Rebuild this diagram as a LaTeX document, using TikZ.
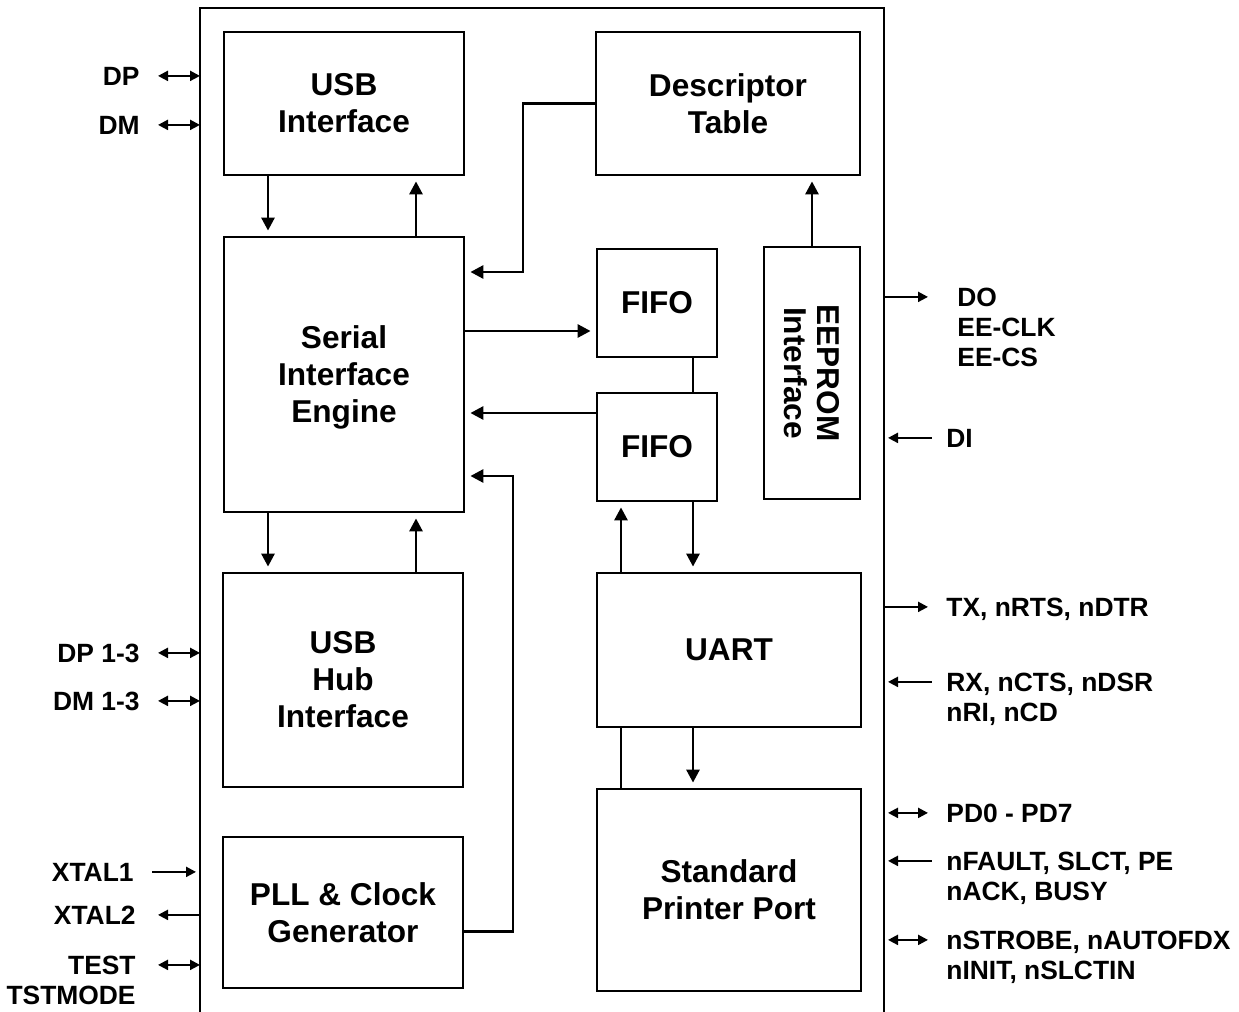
\documentclass[tikz,border=0pt]{standalone}
\usepackage{fontspec}
\setmainfont{Liberation Sans}
\usetikzlibrary{arrows.meta, positioning, calc}

\begin{document}
\begin{tikzpicture}[
  x=0.5pt, y=-0.5pt,
  every node/.style={font=\bfseries},
  block/.style={rectangle, draw, line width=1.4pt, align=center, inner sep=0pt,
    font=\fontsize{15.8}{18.5}\selectfont\bfseries},
  pinlabel/.style={inner sep=0pt, font=\fontsize{13.2}{15}\selectfont\bfseries},
  bus/.style={line width=1.4pt, -{Triangle[length=6.5pt, width=6.5pt]}, shorten >=2.5pt},
  link/.style={line width=1.4pt},
  pinout/.style={line width=1.1pt, -{Triangle[length=5pt, width=5pt]}},
  pinin/.style={line width=1.1pt, {Triangle[length=5pt, width=5pt]}-},
  pinboth/.style={line width=1.1pt, {Triangle[length=5pt, width=5pt]}-{Triangle[length=5pt, width=5pt]}},
]
  \useasboundingbox (0,0) rectangle (1239,1012);

  % chip outline
  \coordinate (chipW) at (200,0);
  \coordinate (chipE) at (884,0);
  \coordinate (pinL) at (158,0);
  \coordinate (pinR) at (928,0);
  \draw[line width=1.4pt] (200,1012) -- (200,8) -- (884,8) -- (884,1012);

  % blocks
  \node[block, minimum width=120pt, minimum height=71.5pt] (usb) at (344,103.5) {USB\\Interface};
  \node[block, minimum width=132pt, minimum height=71.5pt] (desc) at (728,103.5) {Descriptor\\Table};
  \node[block, minimum width=120pt, minimum height=137.5pt, text depth=0pt] (sie) at (344,374.5) {Serial\\Interface\\Engine};
  \node[block, minimum width=60pt, minimum height=54pt] (fifoin) at (657,303) {FIFO};
  \node[block, minimum width=60pt, minimum height=54pt] (fifoout) at (657,447) {FIFO};
  \node[block, rotate=-90, minimum width=126pt, minimum height=48pt,
    font=\fontsize{15.8}{16.5}\selectfont\bfseries] (eeprom) at (812,373) {EEPROM\\Interface};
  \node[block, minimum width=120pt, minimum height=107pt] (hub) at (343,680) {USB\\Hub\\Interface};
  \node[block, minimum width=132pt, minimum height=77pt] (uart) at (729,650) {UART};
  \node[block, minimum width=120pt, minimum height=75.5pt] (pll) at (343,912.5) {PLL \& Clock\\Generator};
  \node[block, minimum width=132pt, minimum height=101pt] (spp) at (729,890) {Standard\\Printer Port};

  % internal connections
  \draw[bus] ([xshift=-38pt]usb.south) -- ([xshift=-38pt]usb.south |- sie.north);
  \draw[bus] ([xshift=36pt]usb.south |- sie.north) -- ([xshift=36pt]usb.south);
  \coordinate (descturn) at (523,272);
  \draw[bus] (desc.west) -| (descturn) -- (descturn -| sie.east);
  \draw[bus] ([yshift=-14pt]sie.east |- fifoin.west) -- ([yshift=-14pt]fifoin.west);
  \draw[bus] ([yshift=17pt]fifoout.west) -- ([yshift=17pt]sie.east |- fifoout.west);
  \draw[link] ([xshift=18pt]fifoin.south) -- ([xshift=18pt]fifoout.north);
  \draw[bus] (eeprom.west) -- (eeprom.west |- desc.south);
  \draw[bus] ([xshift=-38pt]sie.south) -- ([xshift=-38pt]sie.south |- hub.north);
  \draw[bus] ([xshift=36pt]sie.south |- hub.north) -- ([xshift=36pt]sie.south);
  \coordinate (clkturn) at (513,476);
  \draw[bus] ([yshift=-9.5pt]pll.east) -| (clkturn) -- (clkturn -| sie.east);
  \draw[bus] ([xshift=-18pt]fifoout.south |- uart.north) -- ([xshift=-18pt]fifoout.south);
  \draw[bus] ([xshift=18pt]fifoout.south) -- ([xshift=18pt]fifoout.south |- uart.north);
  \draw[bus] ([xshift=18pt]fifoout.south |- uart.south) -- ([xshift=18pt]fifoout.south |- spp.north);
  \draw[link] ([xshift=-18pt]fifoout.south |- uart.south) -- ([xshift=-18pt]fifoout.south |- spp.north);

  % left pins
  \node[pinlabel, anchor=north east] (dp) at (140,66.5) {DP};
  \node[pinlabel, anchor=north east] (dm) at (140,115.5) {DM};
  \node[pinlabel, anchor=north east] (dpx) at (140,643.5) {DP 1-3};
  \node[pinlabel, anchor=north east] (dmx) at (140,691.5) {DM 1-3};
  \node[pinlabel, anchor=north east] (xtalin) at (134,862.5) {XTAL1};
  \node[pinlabel, anchor=north east] (xtalout) at (136,905.5) {XTAL2};
  \node[pinlabel, anchor=north east, align=right] (test) at (136,955.5) {TEST\\TSTMODE};

  \draw[pinboth] ([yshift=-4.7pt]dp.north east -| pinL) -- ([yshift=-4.7pt]dp.north east -| chipW);
  \draw[pinboth] ([yshift=-4.7pt]dm.north east -| pinL) -- ([yshift=-4.7pt]dm.north east -| chipW);
  \draw[pinboth] ([yshift=-4.7pt]dpx.north east -| pinL) -- ([yshift=-4.7pt]dpx.north east -| chipW);
  \draw[pinboth] ([yshift=-4.7pt]dmx.north east -| pinL) -- ([yshift=-4.7pt]dmx.north east -| chipW);
  \draw[pinout] ([yshift=-4.7pt,xshift=-3pt]xtalin.north east -| pinL) -- ([yshift=-4.7pt,xshift=-2pt]xtalin.north east -| chipW);
  \draw[pinin] ([yshift=-4.7pt]xtalout.north east -| pinL) -- ([yshift=-4.7pt]xtalout.north east -| chipW);
  \draw[pinboth] ([yshift=-4.7pt]test.north east -| pinL) -- ([yshift=-4.7pt]test.north east -| chipW);

  % right pins
  \node[pinlabel, anchor=north west, align=left] (eeout) at (957,287.5) {DO\\EE-CLK\\EE-CS};
  \node[pinlabel, anchor=north west] (eein) at (946,428.5) {DI};
  \node[pinlabel, anchor=north west] (txd) at (946,597.5) {TX, nRTS, nDTR};
  \node[pinlabel, anchor=north west, align=left] (rxd) at (946,672.5) {RX, nCTS, nDSR\\nRI, nCD};
  \node[pinlabel, anchor=north west] (pdata) at (946,803.5) {PD0 - PD7};
  \node[pinlabel, anchor=north west, align=left] (pstat) at (946,851.5) {nFAULT, SLCT, PE\\nACK, BUSY};
  \node[pinlabel, anchor=north west, align=left] (pctrl) at (946,930.5) {nSTROBE, nAUTOFDX\\nINIT, nSLCTIN};

  \draw[pinout] ([yshift=-4.7pt]eeout.north west -| chipE) -- ([yshift=-4.7pt]eeout.north west -| pinR);
  \draw[pinin] ([yshift=-4.7pt,xshift=2pt]eein.north west -| chipE) -- ([yshift=-4.7pt,xshift=2pt]eein.north west -| pinR);
  \draw[pinout] ([yshift=-4.7pt]txd.north west -| chipE) -- ([yshift=-4.7pt]txd.north west -| pinR);
  \draw[pinin] ([yshift=-4.7pt,xshift=2pt]rxd.north west -| chipE) -- ([yshift=-4.7pt,xshift=2pt]rxd.north west -| pinR);
  \draw[pinboth] ([yshift=-4.7pt,xshift=2pt]pdata.north west -| chipE) -- ([yshift=-4.7pt]pdata.north west -| pinR);
  \draw[pinin] ([yshift=-4.7pt,xshift=2pt]pstat.north west -| chipE) -- ([yshift=-4.7pt,xshift=2pt]pstat.north west -| pinR);
  \draw[pinboth] ([yshift=-4.7pt,xshift=2pt]pctrl.north west -| chipE) -- ([yshift=-4.7pt]pctrl.north west -| pinR);
\end{tikzpicture}
\end{document}
